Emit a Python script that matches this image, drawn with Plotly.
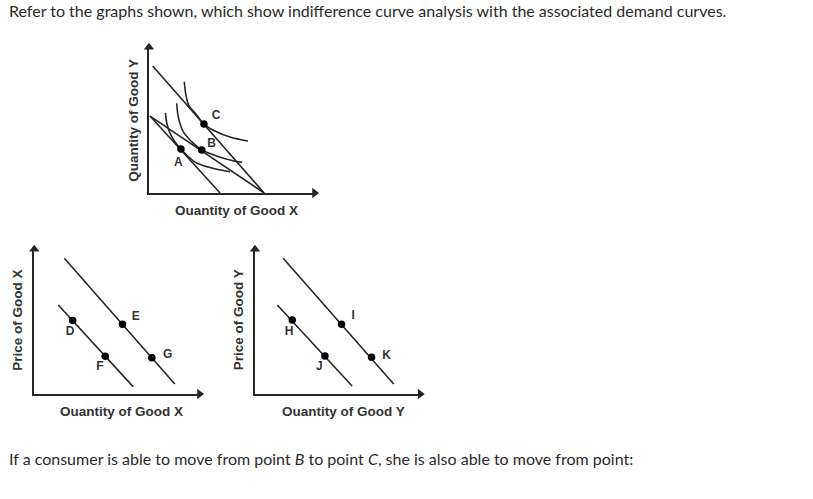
import plotly.graph_objects as go

W, H = 813, 499

# ---------------- Data (axis units, 0-10 on each panel) ----------------
# Top panel: budget lines
budget_high_x = [0.22, 6.85]
budget_high_y = [8.58, 0.0]
budget_flat_x = [0.06, 6.85]
budget_flat_y = [5.20, 0.0]
budget_steep_x = [0.06, 4.23]
budget_steep_y = [5.20, 0.0]

# Indifference curves
ic1_x = [0.98, 1.07, 1.25, 1.55, 1.90, 2.74, 3.63, 4.82]
ic1_y = [5.41, 4.66, 4.05, 3.45, 2.97, 2.09, 1.72, 1.44]
ic2_x = [1.65, 1.74, 2.04, 2.54, 3.14, 4.11, 4.94, 5.54]
ic2_y = [6.06, 5.16, 4.14, 3.47, 2.91, 2.47, 2.20, 2.07]
ic3_x = [2.10, 2.20, 2.38, 2.74, 3.27, 3.93, 4.82, 5.89]
ic3_y = [7.52, 6.62, 5.88, 5.41, 4.66, 4.19, 3.78, 3.51]

top_points = ["A", "B", "C"]
top_px = [1.90, 3.14, 3.27]
top_py = [2.97, 2.91, 4.66]
top_lx = [1.75, 3.73, 4.00]
top_ly = [2.05, 3.29, 5.20]

# Bottom-left panel: demand for good X
dx_upper_x = [1.79, 8.38]
dx_upper_y = [9.23, 0.68]
dx_lower_x = [1.43, 5.89]
dx_lower_y = [6.05, 0.50]
bl_points = ["D", "E", "F", "G"]
bl_px = [2.29, 5.26, 4.23, 7.01]
bl_py = [5.00, 4.75, 2.56, 2.46]
bl_lx = [2.13, 6.05, 3.91, 7.96]
bl_ly = [4.24, 5.24, 1.86, 2.65]

# Bottom-right panel: demand for good Y
dy_upper_x = [1.68, 8.27]
dy_upper_y = [9.23, 0.68]
dy_lower_x = [1.33, 5.79]
dy_lower_y = [6.05, 0.54]
br_points = ["H", "I", "J", "K"]
br_px = [2.22, 5.16, 4.17, 6.95]
br_py = [5.03, 4.75, 2.59, 2.50]
br_lx = [2.04, 5.85, 3.83, 7.84]
br_ly = [4.24, 5.31, 1.86, 2.59]

AX_RANGE = [0, 10]

# ---------------- Figure ----------------
INK = "#262626"
fig = go.Figure()


def line(x, y, ax, shape="linear"):
    fig.add_trace(go.Scatter(x=x, y=y, mode="lines", line=dict(color=INK, width=1.6, shape=shape,
                                                                smoothing=1.0),
                             xaxis=ax[0], yaxis=ax[1], hoverinfo="skip", showlegend=False))


def dots(x, y, ax):
    fig.add_trace(go.Scatter(x=x, y=y, mode="markers", marker=dict(color="black", size=7.5),
                             xaxis=ax[0], yaxis=ax[1], showlegend=False, cliponaxis=False))


def labels(x, y, t, ax):
    fig.add_trace(go.Scatter(x=x, y=y, mode="text", text=["<b>%s</b>" % s for s in t],
                             textfont=dict(family="Liberation Sans, Arial", size=12, color="#333"),
                             xaxis=ax[0], yaxis=ax[1], showlegend=False, cliponaxis=False))


def arrows(ax):
    fig.add_trace(go.Scatter(x=[AX_RANGE[1] - 0.15], y=[AX_RANGE[0]], mode="markers",
                             marker=dict(symbol="triangle-right", size=9, color=INK),
                             xaxis=ax[0], yaxis=ax[1], showlegend=False, cliponaxis=False,
                             hoverinfo="skip"))
    fig.add_trace(go.Scatter(x=[AX_RANGE[0]], y=[AX_RANGE[1] - 0.15], mode="markers",
                             marker=dict(symbol="triangle-up", size=9, color=INK),
                             xaxis=ax[0], yaxis=ax[1], showlegend=False, cliponaxis=False,
                             hoverinfo="skip"))


top = ("x", "y")
bl = ("x2", "y2")
br = ("x3", "y3")

line(budget_high_x, budget_high_y, top)
line(budget_flat_x, budget_flat_y, top)
line(budget_steep_x, budget_steep_y, top)
line(ic1_x, ic1_y, top, "spline")
line(ic2_x, ic2_y, top, "spline")
line(ic3_x, ic3_y, top, "spline")
dots(top_px, top_py, top)
labels(top_lx, top_ly, top_points, top)
arrows(top)

line(dx_upper_x, dx_upper_y, bl)
line(dx_lower_x, dx_lower_y, bl)
dots(bl_px, bl_py, bl)
labels(bl_lx, bl_ly, bl_points, bl)
arrows(bl)

line(dy_upper_x, dy_upper_y, br)
line(dy_lower_x, dy_lower_y, br)
dots(br_px, br_py, br)
labels(br_lx, br_ly, br_points, br)
arrows(br)

ax_common = dict(range=AX_RANGE, showgrid=False, zeroline=False, showticklabels=False,
                 ticks="", showline=True, linecolor=INK, linewidth=1.6, fixedrange=True)


def px_x(p):
    return p / W


def px_y(p):
    return 1 - p / H


fig.update_layout(
    width=W, height=H, margin=dict(l=0, r=0, t=0, b=0),
    paper_bgcolor="white", plot_bgcolor="white",
    xaxis=dict(domain=[px_x(149), px_x(317)], anchor="y", **ax_common),
    yaxis=dict(domain=[px_y(193), px_y(45)], anchor="x", **ax_common),
    xaxis2=dict(domain=[px_x(34.3), px_x(202)], anchor="y2", **ax_common),
    yaxis2=dict(domain=[px_y(394), px_y(247)], anchor="x2", **ax_common),
    xaxis3=dict(domain=[px_x(255), px_x(422.7)], anchor="y3", **ax_common),
    yaxis3=dict(domain=[px_y(394), px_y(247)], anchor="x3", **ax_common),
)

TXT = dict(family="Lato, Open Sans, sans-serif", size=16, color="#2a2a2a")
AXT = dict(family="Liberation Sans, Arial", size=13.5, color="#333")

ann = [
    dict(text="Refer to the graphs shown, which show indifference curve analysis with the associated demand curves.",
         x=px_x(7), y=px_y(10), xanchor="left", yanchor="middle", font=TXT),
    dict(text="If a consumer is able to move from point <i>B</i> to point <i>C</i>, she is also able to move from point:",
         x=px_x(7), y=px_y(458), xanchor="left", yanchor="middle", font=TXT),
    dict(text="<b>Quantity of Good Y</b>", x=px_x(132.7), y=px_y(120), textangle=-90,
         xanchor="center", yanchor="middle", font=AXT),
    dict(text="<b>Ouantity of Good X</b>", x=px_x(236.7), y=px_y(210),
         xanchor="center", yanchor="middle", font=AXT),
    dict(text="<b>Price of Good X</b>", x=px_x(16.7), y=px_y(320), textangle=-90,
         xanchor="center", yanchor="middle", font=AXT),
    dict(text="<b>Ouantity of Good X</b>", x=px_x(121.7), y=px_y(411.7),
         xanchor="center", yanchor="middle", font=AXT),
    dict(text="<b>Price of Good Y</b>", x=px_x(238.3), y=px_y(320), textangle=-90,
         xanchor="center", yanchor="middle", font=AXT),
    dict(text="<b>Ouantity of Good Y</b>", x=px_x(343.3), y=px_y(411.7),
         xanchor="center", yanchor="middle", font=AXT),
]
for a in ann:
    a.update(xref="paper", yref="paper", showarrow=False)
fig.update_layout(annotations=ann)

fig.write_html("out.html", config={"displayModeBar": False},
               post_script="document.body.style.margin='0px';")
